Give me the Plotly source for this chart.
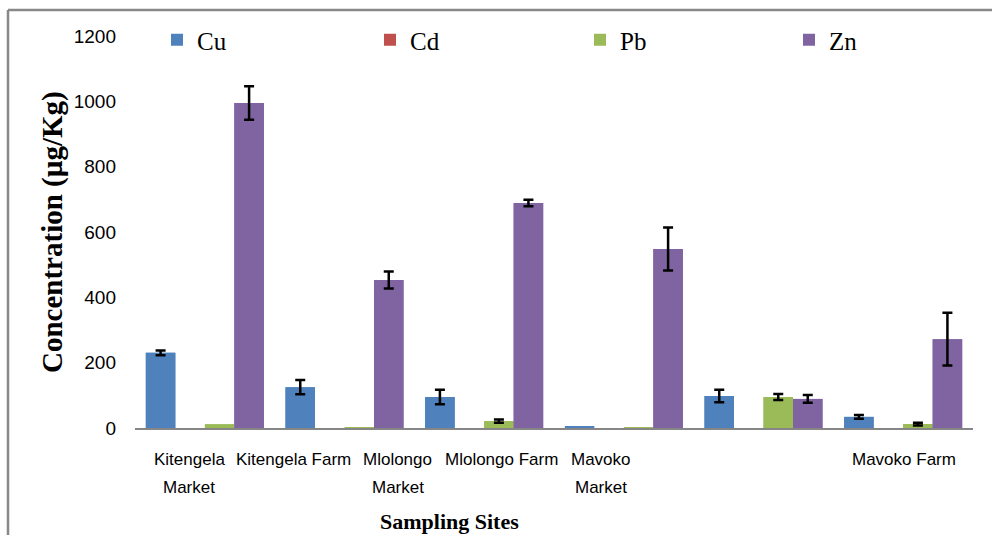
import plotly.graph_objects as go

# Sampling sites and heavy-metal concentrations (µg/Kg) with standard deviations
sites = ["Kitengela Market", "Kitengela Farm", "Mlolongo Market",
         "Mlolongo Farm", "Mavoko Market", "Mavoko Farm"]
site_labels = ["Kitengela<br>Market", "Kitengela Farm", "Mlolongo<br>Market",
               "Mlolongo Farm", "Mavoko<br>Market", "Mavoko Farm"]

cu = [230, 125, 95, 6, 98, 34]
cu_err = [7, 22, 22, None, 19, 6]
cd = [0, 0, 0, 0, 0, 0]
cd_err = [None, None, None, None, None, None]
pb = [12, 3, 21, 3, 95, 12]
pb_err = [None, None, 5, None, 9, 4]
zn = [995, 453, 689, 548, 89, 272]
zn_err = [51, 26, 10, 66, 12, 81]

y_ticks = [0, 200, 400, 600, 800, 1000, 1200]

series = [
    ("Cu", cu, cu_err, "#4F81BD"),
    ("Cd", cd, cd_err, "#C0504D"),
    ("Pb", pb, pb_err, "#9BBB59"),
    ("Zn", zn, zn_err, "#8064A2"),
]

# Figure geometry (pixels)
W, H = 992, 535
ML, MR, MT, MB = 135, 19, 36, 107
PW, PH = W - ML - MR, H - MT - MB


def px_x(px):
    return (px - ML) / PW


def px_y(py):
    return (H - MB - py) / PH


# left edge (px) of each legend entry along the top row
legend_px = [157, 370, 580, 789]
legend_ids = ["legend", "legend2", "legend3", "legend4"]

fig = go.Figure()
for (name, vals, errs, color), lid in zip(series, legend_ids):
    # main bars
    fig.add_trace(go.Bar(
        name=name, x=sites, y=vals, marker_color=color, marker_line_width=0,
        offsetgroup=name, legend=lid,
    ))
    # the same bars again, only where a standard deviation exists, carrying the error bars
    idx = [i for i, e in enumerate(errs) if e is not None]
    if idx:
        fig.add_trace(go.Bar(
            name=name, x=[sites[i] for i in idx], y=[vals[i] for i in idx],
            marker_color=color, marker_line_width=0, offsetgroup=name,
            showlegend=False, hoverinfo="skip",
            error_y=dict(type="data", array=[errs[i] for i in idx], visible=True,
                         color="black", thickness=2.5, width=5),
        ))

# Site labels under the category groups, one text line at a time (28 px line pitch)
label_px = [189, 293.5, 397.5, 501, 601, 904]
label_font = dict(family="Liberation Sans, Arial, sans-serif", size=17, color="black")
annotations = []
for lab, px in zip(site_labels, label_px):
    for k, line in enumerate(lab.split("<br>")):
        annotations.append(dict(
            text=line, x=px_x(px), y=px_y(459 + 28 * k), xref="paper", yref="paper",
            xanchor="center", yanchor="middle", showarrow=False, font=label_font,
        ))

annotations.append(dict(
    text="<b>Concentration (µg/Kg)</b>", x=px_x(52), y=0.5, xref="paper", yref="paper",
    xanchor="center", yanchor="middle", textangle=-90, showarrow=False,
    font=dict(family="Liberation Serif, Times New Roman, serif", size=29, color="black"),
))
annotations.append(dict(
    text="<b>Sampling Sites</b>", x=px_x(449), y=px_y(521), xref="paper", yref="paper",
    xanchor="center", yanchor="middle", showarrow=False,
    font=dict(family="Liberation Serif, Times New Roman, serif", size=22, color="black"),
))

legend_style = dict(
    orientation="h", y=px_y(40), xanchor="left", yanchor="middle",
    bgcolor="rgba(0,0,0,0)", borderwidth=0,
    font=dict(family="Liberation Serif, Times New Roman, serif", size=25, color="black"),
)
legend_layout = {lid: dict(legend_style, x=px_x(px)) for lid, px in zip(legend_ids, legend_px)}

fig.update_layout(
    width=W, height=H,
    margin=dict(l=ML, r=MR, t=MT, b=MB, pad=0),
    paper_bgcolor="white", plot_bgcolor="white",
    barmode="group", bargap=0.155, bargroupgap=0,
    showlegend=True,
    annotations=annotations,
    shapes=[
        dict(type="line", xref="paper", yref="paper", x0=px_x(8), x1=px_x(1100),
             y0=px_y(10), y1=px_y(10), line=dict(color="#888888", width=2.5)),
        dict(type="line", xref="paper", yref="paper", x0=px_x(8), x1=px_x(8),
             y0=px_y(10), y1=px_y(600), line=dict(color="#888888", width=2.5)),
    ],
    **legend_layout,
)

fig.update_xaxes(
    showticklabels=False, ticks="", showgrid=False, zeroline=False,
    showline=True, linecolor="#868686", linewidth=1.5,
)
fig.update_yaxes(
    range=[0, 1200], tickvals=y_ticks, ticks="", showgrid=False, zeroline=False,
    showline=False, ticklabelstandoff=18,
    tickfont=dict(family="Liberation Sans, Arial, sans-serif", size=19, color="black"),
)

fig.write_html("out.html")
